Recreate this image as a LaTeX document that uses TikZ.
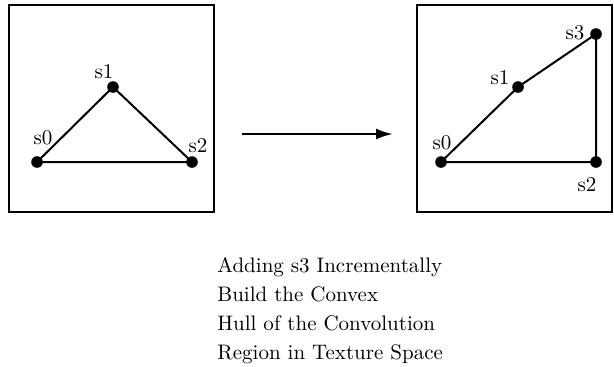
\documentclass[tikz,border=0pt]{standalone}
\usetikzlibrary{arrows.meta, positioning}

\begin{document}
\begin{tikzpicture}[
  x=0.5pt, y=-0.5pt,
  frame/.style={draw, line width=1.3pt},
  edge/.style={line width=1pt},
  site/.style={circle, fill, inner sep=0pt, minimum size=5.8pt},
  tag/.style={inner sep=0pt, font=\fontsize{10.5}{12}\selectfont},
  arrow/.style={-{Latex[length=8.5pt, width=5.5pt]}, line width=1.2pt},
  caption/.style={align=left, inner sep=0pt, font=\fontsize{10.5}{12.5}\selectfont}
]
\useasboundingbox (0,0) rectangle (614,366);

% ------------------------------------------------------------
% Before: three sites
% ------------------------------------------------------------

\draw[frame] (9,5) rectangle (214,212);

\node[site] (a0) at (37,162) {};
\node[site] (a1) at (113,87) {};
\node[site] (a2) at (192,162) {};

\node[tag] (la0) at (43,138) {s0};
\node[tag] (la1) at (104,72) {s1};
\node[tag] (la2) at (198,146) {s2};

\draw[edge] (a0.center) -- (a1.center) -- (a2.center) -- cycle;

% ------------------------------------------------------------
% Step arrow
% ------------------------------------------------------------

\coordinate (from) at (242,134);
\coordinate (to) at (393,134);
\draw[arrow] (from) -- (to);

% ------------------------------------------------------------
% After: s3 added
% ------------------------------------------------------------

\draw[frame] (417,5) rectangle (612,212);

\node[site] (b0) at (441,162) {};
\node[site] (b1) at (518,87) {};
\node[site] (b2) at (596,162) {};
\node[site] (b3) at (596,34) {};

\node[tag] (lb0) at (442,143) {s0};
\node[tag] (lb1) at (500,78) {s1};
\node[tag] (lb2) at (587,185) {s2};
\node[tag] (lb3) at (575,33) {s3};

\draw[edge] (b0.center) -- (b1.center) -- (b3.center) -- (b2.center) -- cycle;

% ------------------------------------------------------------
% Caption
% ------------------------------------------------------------

\node[caption, anchor=north west] (cap) at (217,257) {
Adding s3 Incrementally\\[2pt]
Build the Convex\\[2pt]
Hull of the Convolution\\[2pt]
Region in Texture Space
};

\end{tikzpicture}
\end{document}
